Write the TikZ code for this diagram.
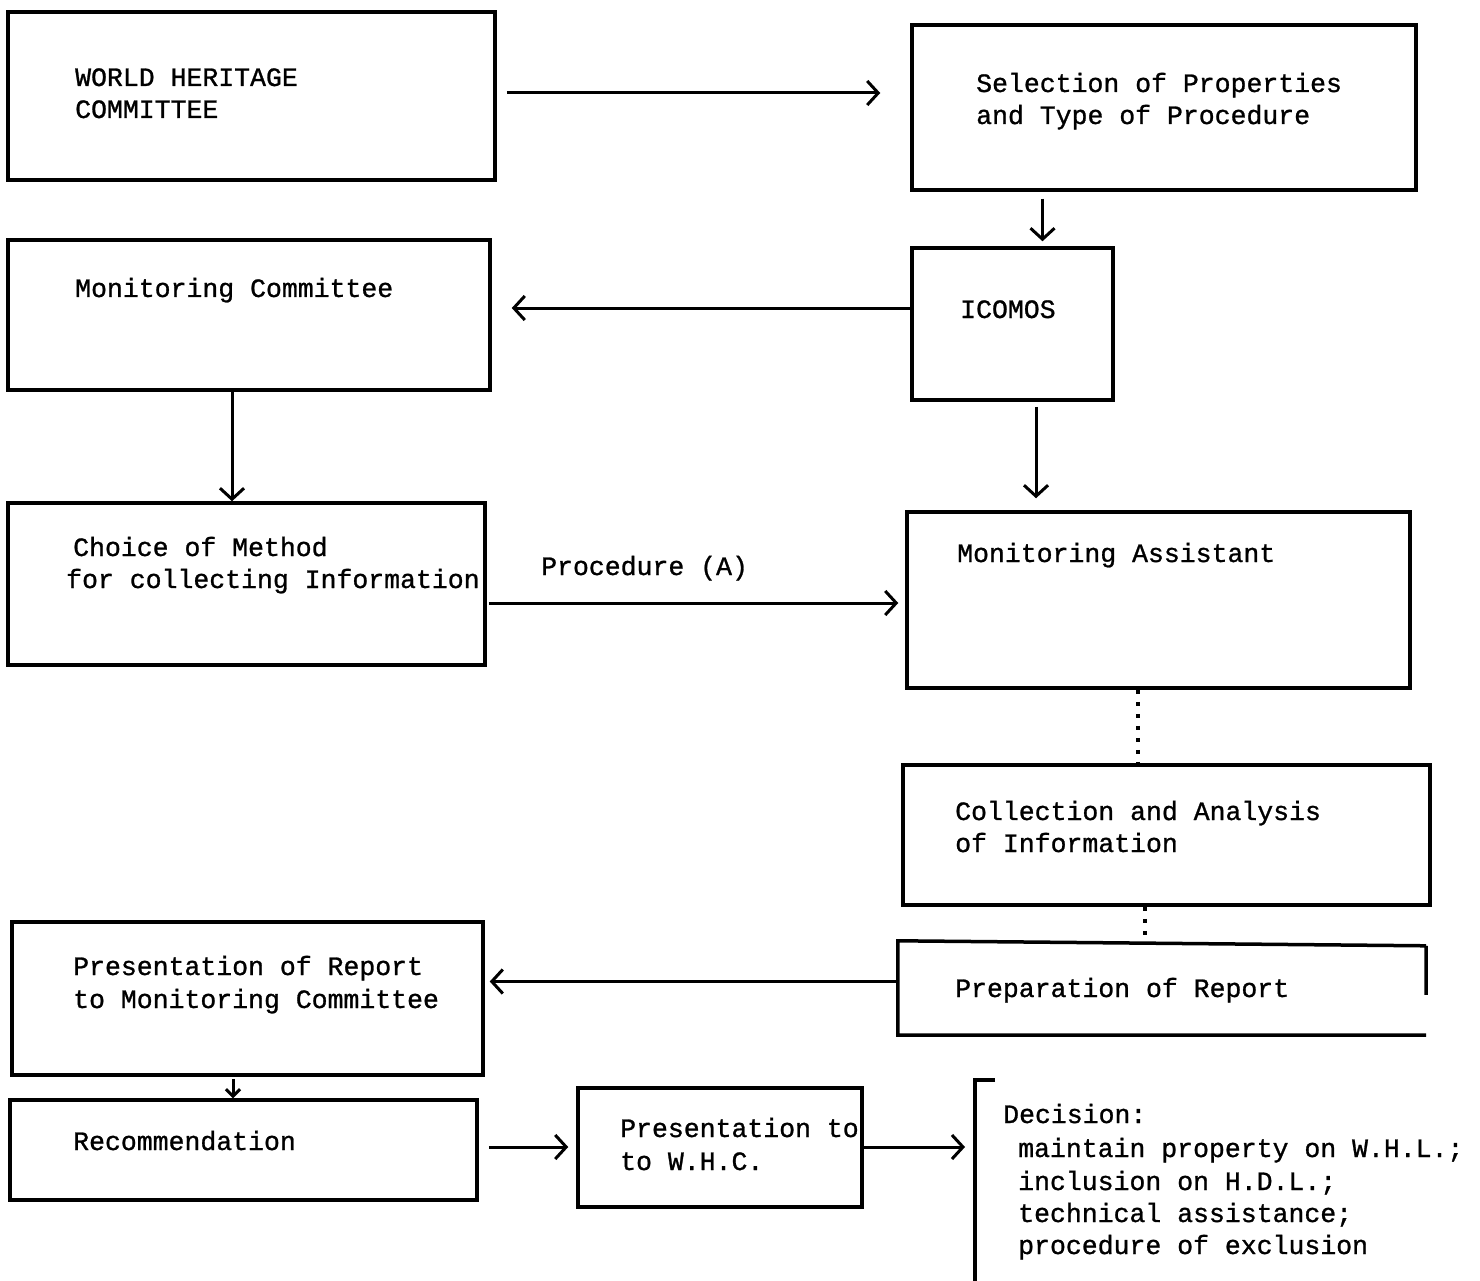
\documentclass[tikz,border=0pt]{standalone}
\usepackage{fontspec}
\newfontfamily\tw[FakeBold=1]{Liberation Mono}
\usetikzlibrary{arrows.meta}
\begin{document}
\begin{tikzpicture}[x=1pt,y=-1pt,
  box/.style={draw,line width=3.5pt,inner sep=0pt,rectangle},
  frame/.style={inner sep=0pt,rectangle},
  txt/.style={anchor=base west,inner sep=0pt,font=\tw\fontsize{26.5}{32}\selectfont},
  arr/.style={line width=3pt,-{Straight Barb[length=11pt,width=24pt,line width=3pt]}},
  sarr/.style={line width=3pt,-{Straight Barb[length=7pt,width=14pt,line width=3pt]}},
  dotline/.style={line width=3.5pt,dash pattern=on 4pt off 8pt}]
\useasboundingbox (0,0) rectangle (1480,1281);
% boxes
\node[box,minimum width=487,minimum height=168] (wh) at (251.5,96) {};
\node[box,minimum width=504,minimum height=165] (sel) at (1164,107.5) {};
\node[box,minimum width=201,minimum height=152] (ico) at (1012.5,324) {};
\node[box,minimum width=482,minimum height=150] (mc) at (249,315) {};
\node[box,minimum width=477,minimum height=162] (ch) at (246.5,584) {};
\node[box,minimum width=503,minimum height=176] (ma) at (1158.5,600) {};
\node[box,minimum width=527,minimum height=140] (col) at (1166.5,835) {};
\node[frame,minimum width=528,minimum height=95] (prep) at (1162,987.5) {};
\draw[line width=3.5pt] ([yshift=-6]prep.north east) -- ([yshift=-55]prep.north east)
  ([yshift=-6]prep.north east) -- ([yshift=-1]prep.north west) -- (prep.south west) -- (prep.south east);
\node[box,minimum width=471,minimum height=153] (pr) at (247.5,998.5) {};
\node[box,minimum width=467,minimum height=100] (rec) at (243.5,1150) {};
\node[box,minimum width=284,minimum height=119] (pw) at (720,1147.5) {};
\coordinate (dec) at (975,1147);
\draw[line width=3.5pt] (995,1080) -- (975,1080) -- (975,1281);
% texts
\node[txt] (t1) at (75,86) {WORLD HERITAGE};
\node[txt] (t2) at (75,118) {COMMITTEE};
\node[txt] (t3) at (976,92) {Selection of Properties};
\node[txt] (t4) at (976,124) {and Type of Procedure};
\node[txt] (t5) at (960,318) {ICOMOS};
\node[txt] (t6) at (75,297) {Monitoring Committee};
\node[txt] (t7) at (73,556) {Choice of Method};
\node[txt] (t8) at (66,588) {for collecting Information};
\node[txt] (t9) at (541,575) {Procedure (A)};
\node[txt] (t10) at (957,562) {Monitoring Assistant};
\node[txt] (t11) at (955,820) {Collection and Analysis};
\node[txt] (t12) at (955,852) {of Information};
\node[txt] (t13) at (955,997) {Preparation of Report};
\node[txt] (t14) at (73,975) {Presentation of Report};
\node[txt] (t15) at (73,1008) {to Monitoring Committee};
\node[txt] (t16) at (73,1150) {Recommendation};
\node[txt] (t17) at (620,1137) {Presentation to};
\node[txt] (t18) at (620,1170) {to W.H.C.};
\node[txt] (t19) at (1003,1123) {Decision:};
\node[txt] (t20) at (1018,1157) {maintain property on W.H.L.;};
\node[txt] (t21) at (1018,1190) {inclusion on H.D.L.;};
\node[txt] (t22) at (1018,1222) {technical assistance;};
\node[txt] (t23) at (1018,1254) {procedure of exclusion};
% connectors
\draw[arr,shorten <=10pt,shorten >=30pt] ([yshift=3pt]wh.east) -- ([yshift=3pt]wh.east -| sel.west);
\draw[arr,shorten <=7pt,shorten >=5pt] ([xshift=30pt]ico.north |- sel.south) -- ([xshift=30pt]ico.north);
\draw[arr,shorten >=20pt] ([yshift=16pt]ico.west) -- ([yshift=16pt]ico.west -| mc.east);
\draw[arr] ([xshift=-17pt]mc.south) -- ([xshift=-17pt]mc.south |- ch.north);
\draw[arr,shorten <=5pt,shorten >=12pt] ([xshift=23.5pt]ico.south) -- ([xshift=23.5pt]ico.south |- ma.north);
\draw[arr,shorten <=2pt,shorten >=7pt] ([yshift=-19pt]ch.east) -- ([yshift=-19pt]ch.east -| ma.west);
\draw[dotline] ([xshift=-20.5pt]ma.south) -- ([xshift=-20.5pt]ma.south |- col.north);
\draw[dotline] ([xshift=-21.5pt]col.south) -- ([xshift=-21.5pt]col.south |- prep.north);
\draw[arr,shorten >=5pt] ([yshift=6pt]prep.west) -- ([yshift=6pt]prep.west -| pr.east);
\draw[sarr,shorten <=2pt] ([xshift=-14.5pt]pr.south) -- ([xshift=-14.5pt]pr.south |- rec.north);
\draw[arr,shorten <=10pt,shorten >=8pt] ([yshift=3pt]rec.east) -- ([yshift=3pt]rec.east -| pw.west);
\draw[arr,shorten >=10pt] (pw.east |- dec) -- (dec);
\end{tikzpicture}
\end{document}
